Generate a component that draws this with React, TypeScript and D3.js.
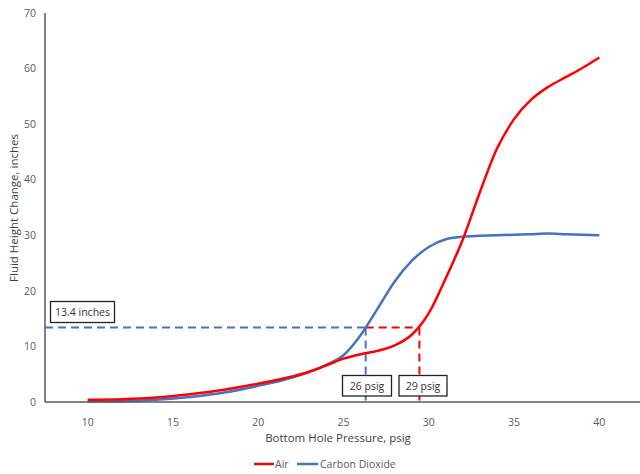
import React from 'react';
import * as d3 from 'd3';

// pressure (psig) and fluid height change (inches)
const airX = [10, 12, 14, 16, 18, 20, 22, 23, 24, 25, 26, 27, 28, 29, 30, 31, 32, 33, 34, 35, 36, 37, 38, 39, 40];
const airY = [0.4, 0.5, 0.8, 1.4, 2.2, 3.3, 4.6, 5.45, 6.6, 7.8, 8.6, 9.2, 10.2, 12.1, 16.0, 22.3, 29.3, 37.8, 45.6, 50.9, 54.4, 56.7, 58.4, 60.1, 62.0];
const co2X = [10, 12, 14, 16, 18, 20, 22, 23, 24, 25, 26, 27, 28, 29, 30, 31, 32, 33, 34, 35, 36, 37, 38, 39, 40];
const co2Y = [0.1, 0.15, 0.4, 0.9, 1.7, 2.9, 4.4, 5.45, 6.7, 8.4, 12.0, 16.8, 21.7, 25.4, 27.9, 29.3, 29.75, 29.9, 30.0, 30.1, 30.2, 30.3, 30.2, 30.1, 30.0];

const xTicks = [10, 15, 20, 25, 30, 35, 40];
const yTicks = [0, 10, 20, 30, 40, 50, 60, 70];

const markY = 13.4;
const co2Mark = 26.3;
const airMark = 29.45;
const markLabels = ['13.4 inches', '26 psig', '29 psig'];

const RED = '#ff0000';
const BLUE = '#4472c4';
const GREY = '#595959';
const FONT = 'Open Sans, sans-serif';

export default function App() {
  const x = d3.scaleLinear().domain([7.5, 42.5]).range([45, 642]);
  const y = d3.scaleLinear().domain([0, 70]).range([402, 13]);

  const line = d3.line<[number, number]>()
    .x(d => x(d[0]))
    .y(d => y(d[1]))
    .curve(d3.curveMonotoneX);

  const air = airX.map((v, i) => [v, airY[i]] as [number, number]);
  const co2 = co2X.map((v, i) => [v, co2Y[i]] as [number, number]);

  const dash = '8,5';

  return (
    <svg width={640} height={474} style={{ position: 'absolute', left: 0, top: 0 }}>
      <rect width={640} height={474} fill="#fff" />

      {/* reference dashed lines */}
      <line x1={x(7.5)} x2={x(co2Mark)} y1={y(markY)} y2={y(markY)} stroke={BLUE} strokeWidth={2} strokeDasharray={dash} />
      <line x1={x(co2Mark)} x2={x(airMark)} y1={y(markY)} y2={y(markY)} stroke={RED} strokeWidth={2} strokeDasharray={dash} />
      <line x1={x(co2Mark)} x2={x(co2Mark)} y1={y(markY)} y2={y(0)} stroke={BLUE} strokeWidth={2} strokeDasharray={dash} />
      <line x1={x(airMark)} x2={x(airMark)} y1={y(markY)} y2={y(0)} stroke={RED} strokeWidth={2} strokeDasharray={dash} />

      <path d={line(co2) || ''} fill="none" stroke={BLUE} strokeWidth={2.5} />
      <path d={line(air) || ''} fill="none" stroke={RED} strokeWidth={2.5} />

      {/* axes */}
      <line x1={x(7.5)} x2={x(7.5)} y1={y(70)} y2={y(0)} stroke={GREY} strokeWidth={1.5} />
      <line x1={x(7.5)} x2={640} y1={y(0)} y2={y(0)} stroke={GREY} strokeWidth={1.5} />

      {yTicks.map(t => (
        <text key={'y' + t} x={36} y={y(t)} dy="0.35em" textAnchor="end" fontFamily={FONT} fontSize={10.5} fill={GREY}>{t}</text>
      ))}
      {xTicks.map(t => (
        <text key={'x' + t} x={x(t)} y={422} dy="0.35em" textAnchor="middle" fontFamily={FONT} fontSize={10.5} fill={GREY}>{t}</text>
      ))}

      {/* annotation boxes */}
      <rect x={50.5} y={301.5} width={64} height={21} fill="#fff" stroke="#222" strokeWidth={1.3} />
      <text x={82.5} y={312} dy="0.35em" textAnchor="middle" fontFamily={FONT} fontSize={10.5} fill="#333">{markLabels[0]}</text>
      <rect x={342.5} y={375.5} width={49} height={20.5} fill="#fff" stroke="#222" strokeWidth={1.3} />
      <text x={367} y={386} dy="0.35em" textAnchor="middle" fontFamily={FONT} fontSize={10.5} fill="#333">{markLabels[1]}</text>
      <rect x={399} y={375.5} width={48} height={20.5} fill="#fff" stroke="#222" strokeWidth={1.3} />
      <text x={423} y={386} dy="0.35em" textAnchor="middle" fontFamily={FONT} fontSize={10.5} fill="#333">{markLabels[2]}</text>

      {/* axis titles */}
      <text x={338} y={438} dy="0.35em" textAnchor="middle" fontFamily={FONT} fontSize={11.5} fill="#404040">Bottom Hole Pressure, psig</text>
      <text transform="translate(14,208) rotate(-90)" dy="0.35em" textAnchor="middle" fontFamily={FONT} fontSize={11.5} fill="#404040">Fluid Height Change, inches</text>

      {/* legend */}
      <line x1={254} x2={274} y1={464} y2={464} stroke={RED} strokeWidth={2.5} />
      <text x={275} y={464} dy="0.35em" fontFamily={FONT} fontSize={10.5} fill={GREY}>Air</text>
      <line x1={297} x2={318} y1={464} y2={464} stroke={BLUE} strokeWidth={2.5} />
      <text x={320} y={464} dy="0.35em" fontFamily={FONT} fontSize={10.5} fill={GREY}>Carbon Dioxide</text>
    </svg>
  );
}
